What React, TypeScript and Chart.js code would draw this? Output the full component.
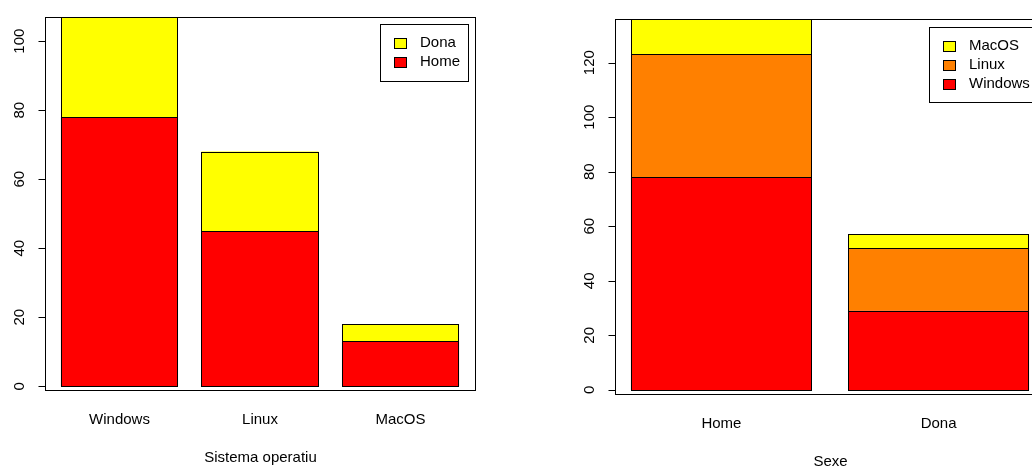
import React, { useEffect, useRef } from "react";
import { Chart, registerables } from "chart.js";

Chart.register(...registerables);

// ---- data ----
const sysCategories = ["Windows", "Linux", "MacOS"];
const homeBySys = [78, 45, 13];
const donaBySys = [29, 23, 5];

const sexCategories = ["Home", "Dona"];
const windowsBySex = [78, 29];
const linuxBySex = [45, 23];
const macBySex = [13, 5];

const leftYTicks = [0, 20, 40, 60, 80, 100];
const rightYTicks = [0, 20, 40, 60, 80, 100, 120];

const leftXTitle = "Sistema operatiu";
const rightXTitle = "Sexe";

const RED = "#FF0000";
const ORANGE = "#FF8000";
const YELLOW = "#FFFF00";

const FONT = '15px "Liberation Sans", Arial, Helvetica, sans-serif';

// R barplot layout: width 1, space 0.2
const SPACE = 0.2;
const barCenter = (i: number) => SPACE + 0.5 + i * (1 + SPACE);
const xRange = (n: number) => {
  const lo = SPACE;
  const hi = n * (1 + SPACE);
  const ext = (hi - lo) * 0.04;
  return { min: lo - ext, max: hi + ext };
};

type PanelOpts = {
  categories: string[];
  yTicks: number[];
  xTitle: string;
  legend: { x: number; y: number; w: number; h: number };
};

const rPlugin = {
  id: "rstyle",
  afterDatasetsDraw(chart: any) {
    const ctx = chart.ctx as CanvasRenderingContext2D;
    ctx.save();
    ctx.strokeStyle = "#000";
    ctx.lineWidth = 1;
    chart.data.datasets.forEach((_d: any, di: number) => {
      const meta = chart.getDatasetMeta(di);
      meta.data.forEach((el: any) => {
        const p = el.getProps(["x", "y", "base", "width"], true);
        const l = Math.round(p.x - p.width / 2) + 0.5;
        const r = Math.round(p.x + p.width / 2) - 0.5;
        const t = Math.round(Math.min(p.y, p.base)) + 0.5;
        const b = Math.round(Math.max(p.y, p.base)) + 0.5;
        ctx.strokeRect(l, t, r - l, b - t);
      });
    });
    ctx.restore();
  },
  afterDraw(chart: any, _args: any, opts: PanelOpts) {
    const ctx = chart.ctx as CanvasRenderingContext2D;
    const area = chart.chartArea;
    const xs = chart.scales.x;
    const ys = chart.scales.y;
    const L = Math.round(area.left) + 0.5;
    const R = Math.round(area.right) + 0.5;
    const T = Math.round(area.top) + 0.5;
    const B = Math.round(area.bottom) + 0.5;
    ctx.save();
    ctx.strokeStyle = "#000";
    ctx.lineWidth = 1;
    // box
    ctx.strokeRect(L, T, R - L, B - T);
    // y axis ticks
    ctx.fillStyle = "#000";
    ctx.font = FONT;
    const tk = opts.yTicks;
    ctx.beginPath();
    ctx.moveTo(L, Math.round(ys.getPixelForValue(tk[0])) + 0.5);
    ctx.lineTo(L, Math.round(ys.getPixelForValue(tk[tk.length - 1])) + 0.5);
    for (const v of tk) {
      const y = Math.round(ys.getPixelForValue(v)) + 0.5;
      ctx.moveTo(L - 7, y);
      ctx.lineTo(L, y);
    }
    ctx.stroke();
    ctx.textAlign = "center";
    ctx.textBaseline = "middle";
    for (const v of tk) {
      const y = ys.getPixelForValue(v);
      ctx.save();
      ctx.translate(L - 26, y);
      ctx.rotate(-Math.PI / 2);
      ctx.fillText(String(v), 0, 0);
      ctx.restore();
    }
    // category labels
    opts.categories.forEach((c, i) => {
      ctx.fillText(c, xs.getPixelForValue(barCenter(i)), B + 29);
    });
    // axis title
    ctx.fillText(opts.xTitle, (L + R) / 2, B + 67);
    // legend
    const lg = opts.legend;
    ctx.fillStyle = "#fff";
    ctx.fillRect(lg.x, lg.y, lg.w, lg.h);
    ctx.strokeRect(lg.x + 0.5, lg.y + 0.5, lg.w, lg.h);
    const ds = [...chart.data.datasets].reverse();
    ds.forEach((d: any, i: number) => {
      const cy = Math.round(lg.y + 19 + i * 19);
      ctx.fillStyle = d.backgroundColor;
      ctx.fillRect(lg.x + 14.5, cy - 4.5, 12, 10);
      ctx.strokeRect(lg.x + 14.5, cy - 4.5, 12, 10);
      ctx.fillStyle = "#000";
      ctx.textAlign = "left";
      ctx.fillText(d.label, lg.x + 40, cy);
    });
    ctx.restore();
  },
};

function makeConfig(
  categories: string[],
  series: { label: string; values: number[]; color: string }[],
  yMin: number,
  yMax: number,
  padding: { left: number; right: number; top: number; bottom: number },
  plug: PanelOpts
): any {
  const xr = xRange(categories.length);
  return {
    type: "bar",
    data: {
      datasets: series.map((s) => ({
        label: s.label,
        data: s.values.map((v, i) => ({ x: barCenter(i), y: v })),
        backgroundColor: s.color,
        borderWidth: 0,
        categoryPercentage: 1,
        barPercentage: 1 / (1 + SPACE),
      })),
    },
    options: {
      responsive: false,
      animation: false,
      layout: { padding },
      plugins: {
        legend: { display: false },
        tooltip: { enabled: false },
        rstyle: plug,
      },
      scales: {
        x: {
          type: "linear",
          min: xr.min,
          max: xr.max,
          stacked: true,
          display: false,
          afterBuildTicks: (s: any) => {
            s.ticks = [];
          },
        },
        y: {
          stacked: true,
          min: yMin,
          max: yMax,
          display: false,
        },
      },
    },
    plugins: [rPlugin],
  };
}

export default function App() {
  const leftRef = useRef<HTMLCanvasElement>(null);
  const rightRef = useRef<HTMLCanvasElement>(null);

  useEffect(() => {
    const c1 = new Chart(
      leftRef.current as HTMLCanvasElement,
      makeConfig(
        sysCategories,
        [
          { label: "Home", values: homeBySys, color: RED },
          { label: "Dona", values: donaBySys, color: YELLOW },
        ],
        -1.1,
        107,
        { left: 45, right: 41, top: 17, bottom: 76 },
        {
          categories: sysCategories,
          yTicks: leftYTicks,
          xTitle: leftXTitle,
          legend: { x: 380, y: 24, w: 88, h: 57 },
        }
      )
    );
    const c2 = new Chart(
      rightRef.current as HTMLCanvasElement,
      makeConfig(
        sexCategories,
        [
          { label: "Windows", values: windowsBySex, color: RED },
          { label: "Linux", values: linuxBySex, color: ORANGE },
          { label: "MacOS", values: macBySex, color: YELLOW },
        ],
        -1.5,
        136,
        { left: 99, right: 71, top: 19, bottom: 72 },
        {
          categories: sexCategories,
          yTicks: rightYTicks,
          xTitle: rightXTitle,
          legend: { x: 413, y: 27, w: 130, h: 75 },
        }
      )
    );
    return () => {
      c1.destroy();
      c2.destroy();
    };
  }, []);

  return (
    <div
      style={{
        position: "absolute",
        left: 0,
        top: 0,
        width: 1032,
        height: 466,
        overflow: "hidden",
        background: "#fff",
      }}
    >
      <canvas
        ref={leftRef}
        width={516}
        height={466}
        style={{ position: "absolute", left: 0, top: 0, width: 516, height: 466 }}
      />
      <canvas
        ref={rightRef}
        width={600}
        height={466}
        style={{ position: "absolute", left: 516, top: 0, width: 600, height: 466 }}
      />
    </div>
  );
}
